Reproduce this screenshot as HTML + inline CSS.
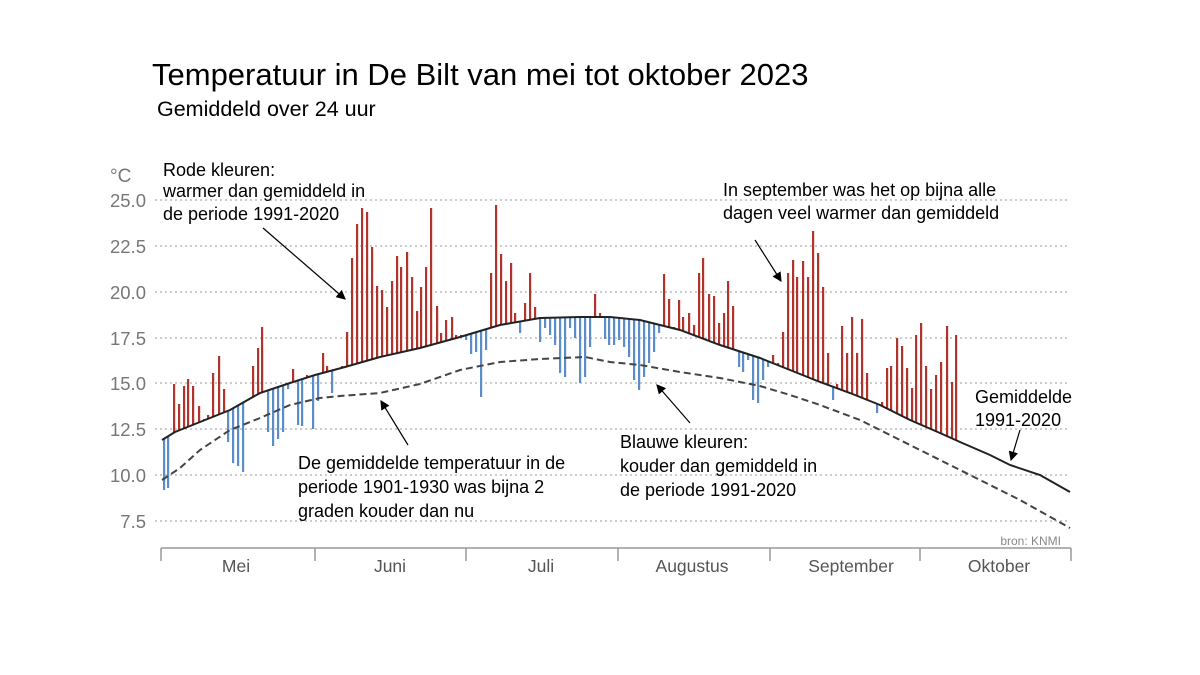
<!DOCTYPE html>
<html><head><meta charset="utf-8"><style>
body{margin:0;background:#fff;width:1200px;height:675px;overflow:hidden}
svg{display:block;font-family:"Liberation Sans",sans-serif}
</style></head><body>
<svg id="s" width="1200" height="675" viewBox="0 0 1200 675">
<text x="152" y="85" font-size="31" fill="#000">Temperatuur in De Bilt van mei tot oktober 2023</text>
<text x="157" y="116" font-size="21.5" fill="#000">Gemiddeld over 24 uur</text>
<g stroke="#999" stroke-dasharray="2,3" stroke-width="1">
<line x1="155" y1="200" x2="1070" y2="200"/><line x1="155" y1="246" x2="1070" y2="246"/>
<line x1="155" y1="292" x2="1070" y2="292"/><line x1="155" y1="338" x2="1070" y2="338"/>
<line x1="155" y1="383" x2="1070" y2="383"/><line x1="155" y1="429" x2="1070" y2="429"/>
<line x1="155" y1="475" x2="1070" y2="475"/><line x1="155" y1="521" x2="1070" y2="521"/>
</g>
<g font-size="18.5" fill="#777" text-anchor="end">
<text x="146" y="207">25.0</text><text x="146" y="253">22.5</text><text x="146" y="299">20.0</text>
<text x="146" y="345">17.5</text><text x="146" y="390">15.0</text><text x="146" y="436">12.5</text>
<text x="146" y="482">10.0</text><text x="146" y="528">7.5</text>
</g>
<text x="110" y="182" font-size="19" fill="#777">°C</text>
<g stroke="#999" stroke-width="1.5">
<line x1="161" y1="548" x2="1071" y2="548"/>
<line x1="161" y1="548" x2="161" y2="561"/><line x1="315" y1="548" x2="315" y2="561"/>
<line x1="466" y1="548" x2="466" y2="561"/><line x1="618" y1="548" x2="618" y2="561"/>
<line x1="770" y1="548" x2="770" y2="561"/><line x1="920" y1="548" x2="920" y2="561"/>
<line x1="1071" y1="548" x2="1071" y2="561"/>
</g>
<g font-size="17.5" fill="#555" text-anchor="middle">
<text x="236" y="572">Mei</text><text x="390" y="572">Juni</text><text x="541" y="572">Juli</text>
<text x="692" y="572">Augustus</text><text x="851" y="572">September</text><text x="999" y="572">Oktober</text>
</g>
<text x="1061" y="545" font-size="12" fill="#888" text-anchor="end">bron: KNMI</text>
<g id="bars"></g>
<polyline id="avg" fill="none" stroke="#222" stroke-width="2"/>
<polyline id="old" fill="none" stroke="#444" stroke-width="2" stroke-dasharray="7,4"/>
<g font-size="18" fill="#000">
<text x="163" y="176">Rode kleuren:</text><text x="163" y="197">warmer dan gemiddeld in</text><text x="163" y="220">de periode 1991-2020</text>
<text x="723" y="196">In september was het op bijna alle</text><text x="723" y="219">dagen veel warmer dan gemiddeld</text>
<text x="298" y="469">De gemiddelde temperatuur in de</text><text x="298" y="493">periode 1901-1930 was bijna 2</text><text x="298" y="517">graden kouder dan nu</text>
<text x="620" y="448">Blauwe kleuren:</text><text x="620" y="472">kouder dan gemiddeld in</text><text x="620" y="496">de periode 1991-2020</text>
<text x="975" y="403">Gemiddelde</text><text x="975" y="426">1991-2020</text>
</g>
<defs><marker id="a" markerWidth="8" markerHeight="8" refX="7" refY="4" orient="auto"><path d="M0,0 L8,4 L0,8 z" fill="#000"/></marker></defs>
<g stroke="#000" stroke-width="1.2" marker-end="url(#a)">
<line x1="263" y1="228" x2="345" y2="299"/>
<line x1="408" y1="445" x2="381" y2="401"/>
<line x1="690" y1="423" x2="657" y2="385"/>
<line x1="755" y1="240" x2="781" y2="281"/>
<line x1="1020" y1="430" x2="1011" y2="460"/>
</g>
</svg>
<script>
var avg=[[162,440],[175,432],[200,422],[230,410],[260,393],[290,383],[315,375],[345,367],[380,357],[420,348],[460,337],[500,325],[540,318],[580,317],[610,317],[640,320],[680,330],[720,345],[760,358],[790,370],[820,382],[850,393],[880,405],[910,420],[940,433],[960,442],[990,455],[1010,465],[1040,475],[1070,492]];
var old=[[162,480],[180,468],[200,450],[230,430],[260,418],[290,405],[320,398],[340,396],[380,393],[420,384],[460,370],[500,362],[540,359],[585,357],[610,362],[640,365],[680,372],[720,378],[760,386],[790,395],[820,405],[860,420],[900,440],[940,460],[980,480],[1020,500],[1070,528]];
function pts(a){return a.map(function(p){return p[0]+','+p[1]}).join(' ')}
document.getElementById('avg').setAttribute('points',pts(avg));
document.getElementById('old').setAttribute('points',pts(old));
function ya(x){for(var i=0;i<avg.length-1;i++){if(x<=avg[i+1][0]){var t=(x-avg[i][0])/(avg[i+1][0]-avg[i][0]);return avg[i][1]+t*(avg[i+1][1]-avg[i][1]);}}return avg[avg.length-1][1];}
var b=[[164,490],[168,488],[174,384],[179,404],[184,386],[188,379],[193,386],[199,406],[204,419],[208,415],[213,373],[219,356],[224,389],[228,442],[233,463],[238,466],[243,472],[248,400],[253,366],[258,348],[262,327],[268,432],[273,446],[278,439],[283,432],[288,389],[293,369],[298,425],[302,426],[307,375],[313,429],[318,401],[323,353],[327,366],[332,393],[338,369],[342,366],[347,332],[352,258],[357,224],[362,208],[367,212],[372,247],[377,286],[382,290],[387,307],[392,281],[397,256],[401,267],[407,252],[412,277],[417,311],[421,287],[426,267],[431,208],[437,306],[441,333],[446,320],[452,317],[456,335],[461,335],[466,340],[471,354],[476,352],[481,397],[486,350],[491,273],[496,205],[501,254],[506,281],[511,263],[515,313],[520,333],[525,303],[530,273],[535,307],[540,342],[545,328],[550,335],[555,345],[560,373],[565,377],[570,328],[575,338],[580,383],[585,377],[590,347],[595,294],[600,313],[605,339],[609,345],[614,345],[619,340],[624,347],[629,357],[634,380],[639,390],[644,377],[649,363],[654,352],[659,333],[664,274],[669,299],[674,327],[679,300],[683,317],[689,313],[694,325],[699,273],[703,258],[709,294],[714,296],[719,323],[724,313],[728,281],[733,306],[739,367],[743,372],[748,360],[753,400],[758,403],[763,380],[768,367],[773,355],[778,363],[783,332],[788,273],[793,260],[797,277],[803,261],[808,277],[813,231],[818,253],[823,287],[828,353],[833,400],[837,384],[842,326],[847,353],[852,317],[857,353],[862,319],[867,373],[873,402],[877,413],[882,402],[887,368],[891,366],[897,338],[902,346],[907,368],[912,388],[916,335],[921,323],[926,366],[931,389],[936,375],[941,362],[947,326],[952,382],[956,335]];
var h='';b.forEach(function(p){var a=ya(p[0]);var top=Math.min(a,p[1]),bot=Math.max(a,p[1]);var c=p[1]<a?'#b0342b':'#5b8ec8';h+='<rect x="'+(p[0]-1)+'" y="'+top+'" width="2.2" height="'+(bot-top)+'" fill="'+c+'"/>';});
document.getElementById('bars').innerHTML=h;
</script>
</body></html>
